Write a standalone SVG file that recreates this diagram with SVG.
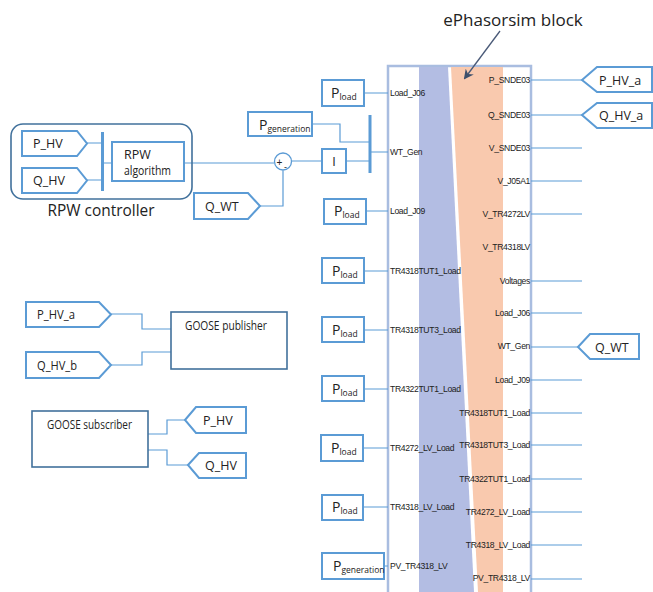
<svg xmlns="http://www.w3.org/2000/svg" width="653" height="592" viewBox="0 0 653 592">
<style>
.tag{fill:#fff;stroke:#5b9bd5;stroke-width:2}
.box{fill:#fff;stroke:#5b9bd5;stroke-width:2}
.dbox{fill:#fff;stroke:#41719c;stroke-width:1.6}
.w{fill:none;stroke:#5b9bd5;stroke-width:1.2}
.t{font-family:"Open Sans","Liberation Sans",sans-serif;font-size:12.5px;fill:#222}
.g{font-family:"Open Sans","Liberation Sans",sans-serif;font-size:12px;fill:#222}
.p{font-family:"Open Sans","Liberation Sans",sans-serif;font-size:14px;fill:#222}
.s{font-size:8.5px}
.port{font-family:"Liberation Sans",Arial,sans-serif;font-size:8.6px;letter-spacing:-0.35px;fill:#222}
.bar{fill:#5b9bd5}
</style>
<defs>
<marker id="ah" markerWidth="10" markerHeight="10" refX="8" refY="5" orient="auto" markerUnits="userSpaceOnUse"><path d="M0,0 L10,5 L0,10 L3,5 z" fill="#3d4f6b"/></marker>
</defs>
<rect width="653" height="592" fill="#fff"/>

<g id="ephasorsim">
<rect x="388" y="66" width="143" height="530" fill="#fff" stroke="#a9bde0" stroke-width="2.5"/>
<polygon points="419,67 448,67 474,592 419,592" fill="#b3bde3"/>
<polygon points="451,67 503,67 503,592 478,592" fill="#f9c9ae"/>
<g class="port">
<text x="390" y="96">Load_J06</text>
<text x="390" y="155">WT_Gen</text>
<text x="390" y="214">Load_J09</text>
<text x="390" y="274">TR4318TUT1_Load</text>
<text x="390" y="333">TR4318TUT3_Load</text>
<text x="390" y="392">TR4322TUT1_Load</text>
<text x="390" y="451">TR4272_LV_Load</text>
<text x="390" y="510">TR4318_LV_Load</text>
<text x="390" y="569">PV_TR4318_LV</text>
</g>
<g class="port" text-anchor="end">
<text x="530" y="83">P_SNDE03</text>
<text x="530" y="118">Q_SNDE03</text>
<text x="530" y="151">V_SNDE03</text>
<text x="530" y="184">V_J05A1</text>
<text x="530" y="217">V_TR4272LV</text>
<text x="530" y="250">V_TR4318LV</text>
<text x="530" y="284">Voltages</text>
<text x="530" y="316">Load_J06</text>
<text x="530" y="349">WT_Gen</text>
<text x="530" y="383">Load_J09</text>
<text x="530" y="416">TR4318TUT1_Load</text>
<text x="530" y="448">TR4318TUT3_Load</text>
<text x="530" y="482">TR4322TUT1_Load</text>
<text x="530" y="515">TR4272_LV_Load</text>
<text x="530" y="548">TR4318_LV_Load</text>
<text x="530" y="581">PV_TR4318_LV</text>
</g>
</g>

<g id="title">
<text x="513" y="26" text-anchor="middle" font-family="'Open Sans','Liberation Sans',sans-serif" font-size="17" fill="#222">ePhasorsim block</text>
<line x1="500" y1="31" x2="465" y2="78" stroke="#4a5a78" stroke-width="1.3" marker-end="url(#ah)"/>
</g>

<g id="connectors">
<path class="w" d="M531,80 H582 M531,115 H582 M531,148 H582 M531,181 H582 M531,214 H582 M531,281 H582 M531,313 H582 M531,347 H578 M531,380 H582 M531,413 H582 M531,445 H582 M531,479 H582 M531,512 H582 M531,545 H582 M531,579 H582"/>
<path class="w" d="M364,93 H388 M366,211 H388 M364,271 H388 M364,330 H388 M364,389 H388 M363,448 H388 M363,507 H388 M384,566 H388"/>
<path class="w" d="M371,152 H388 M312,124 H340 V142 H369 M346,161 H369 M292,161 H322 M184,163 H274 M283,170.5 V206 H260"/>
<path class="w" d="M87,143 H102 M87,180 H102 M104,163 H112"/>
<path class="w" d="M111,314 H142 V329 H171 M111,365 H142 V352 H171"/>
<path class="w" d="M148,434 H167 V420 H185 M148,450 H167 V465 H188"/>
</g>

<g id="wtgen-bar"><rect class="bar" x="368.5" y="115" width="3" height="58"/></g>
<g id="rpw-bar"><rect class="bar" x="101" y="132" width="3" height="59"/></g>

<g id="rpw-controller">
<rect x="11" y="124" width="181" height="75" rx="12" fill="none" stroke="#41719c" stroke-width="1.6"/>
<text x="101" y="216" text-anchor="middle" font-family="'Open Sans','Liberation Sans',sans-serif" font-size="16.5" fill="#222" textLength="107" lengthAdjust="spacingAndGlyphs">RPW controller</text>
</g>
<g id="p-hv-in"><polygon class="tag" points="22,131 77,131 87,143.5 77,156 22,156"/><text class="t" x="33" y="148">P_HV</text></g>
<g id="q-hv-in"><polygon class="tag" points="22,168 77,168 87,180.5 77,193 22,193"/><text class="t" x="33" y="185">Q_HV</text></g>
<g id="rpw-algorithm"><rect class="box" x="112" y="142" width="72" height="39"/><text class="t" x="124" y="159">RPW</text><text class="t" x="124" y="175" textLength="47" lengthAdjust="spacingAndGlyphs">algorithm</text></g>

<g id="sum"><circle cx="283" cy="161.5" r="8.5" fill="#fff" stroke="#5b9bd5" stroke-width="1.3"/><text x="276.5" y="166" font-family="'Liberation Sans',sans-serif" font-size="10" fill="#222">+</text><text x="284" y="170" font-family="'Liberation Sans',sans-serif" font-size="9" fill="#222">-</text></g>
<g id="q-wt-left"><polygon class="tag" points="194,193 248,193 260,206 248,219 194,219"/><text class="t" x="205" y="211">Q_WT</text></g>
<g id="integrator"><rect class="box" x="322" y="149" width="24" height="24"/><text class="t" x="334" y="166" text-anchor="middle">I</text></g>
<g id="pgen-top"><rect class="box" x="248" y="112" width="64" height="24"/><text class="p" x="259" y="130">P<tspan class="s" dy="2">generation</tspan></text></g>

<g id="pload-1"><rect class="box" x="322" y="80" width="42" height="26"/><text class="p" x="331" y="98">P<tspan class="s" dy="2">load</tspan></text></g>
<g id="pload-2"><rect class="box" x="324" y="199" width="42" height="25"/><text class="p" x="334" y="216">P<tspan class="s" dy="2">load</tspan></text></g>
<g id="pload-3"><rect class="box" x="322" y="258" width="42" height="25"/><text class="p" x="332" y="276">P<tspan class="s" dy="2">load</tspan></text></g>
<g id="pload-4"><rect class="box" x="322" y="317" width="42" height="25"/><text class="p" x="332" y="335">P<tspan class="s" dy="2">load</tspan></text></g>
<g id="pload-5"><rect class="box" x="322" y="376" width="42" height="25"/><text class="p" x="332" y="394">P<tspan class="s" dy="2">load</tspan></text></g>
<g id="pload-6"><rect class="box" x="321" y="435" width="42" height="26"/><text class="p" x="331" y="453">P<tspan class="s" dy="2">load</tspan></text></g>
<g id="pload-7"><rect class="box" x="322" y="495" width="41" height="25"/><text class="p" x="332" y="512">P<tspan class="s" dy="2">load</tspan></text></g>
<g id="pgen-bottom"><rect class="box" x="322" y="553" width="62" height="26"/><text class="p" x="333" y="571">P<tspan class="s" dy="2">generation</tspan></text></g>

<g id="p-hv-a-out"><polygon class="tag" points="582,80 597,67 652,67 652,92 597,92"/><text class="t" x="599" y="85">P_HV_a</text></g>
<g id="q-hv-a-out"><polygon class="tag" points="582,115 597,103 652,103 652,128 597,128"/><text class="t" x="599" y="120">Q_HV_a</text></g>
<g id="q-wt-right"><polygon class="tag" points="578,347 590,334 639,334 639,359 590,359"/><text class="t" x="595" y="352">Q_WT</text></g>

<g id="p-hv-a-pub"><polygon class="tag" points="26,302 99,302 111,314.5 99,327 26,327"/><text class="g" x="37" y="319" textLength="38" lengthAdjust="spacingAndGlyphs">P_HV_a</text></g>
<g id="q-hv-b-pub"><polygon class="tag" points="26,352 99,352 111,365 99,378 26,378"/><text class="g" x="37" y="370" textLength="40" lengthAdjust="spacingAndGlyphs">Q_HV_b</text></g>
<g id="goose-publisher"><rect class="dbox" x="171" y="312" width="116" height="57"/><text class="g" x="185" y="330" textLength="82" lengthAdjust="spacingAndGlyphs">GOOSE publisher</text></g>
<g id="goose-subscriber"><rect class="dbox" x="32" y="411" width="116" height="56"/><text class="g" x="47" y="429" textLength="85" lengthAdjust="spacingAndGlyphs">GOOSE subscriber</text></g>
<g id="p-hv-sub"><polygon class="tag" points="185,420 196,407 246,407 246,433 196,433"/><text class="t" x="203" y="425">P_HV</text></g>
<g id="q-hv-sub"><polygon class="tag" points="188,465 199,453 246,453 246,478 199,478"/><text class="t" x="205" y="470">Q_HV</text></g>
</svg>
